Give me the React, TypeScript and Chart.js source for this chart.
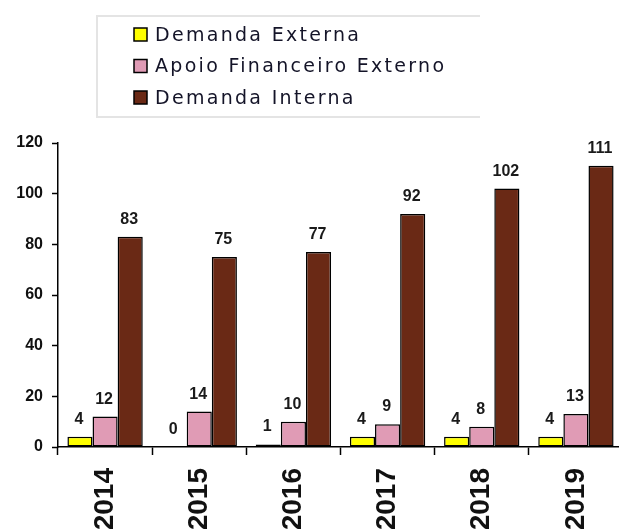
import React, { useEffect, useRef } from "react";
import { Chart, registerables } from "chart.js";

Chart.register(...registerables);

const years = ["2014", "2015", "2016", "2017", "2018", "2019"];
const demandaExterna = [4, 0, 1, 4, 4, 4];
const apoioFinanceiro = [12, 14, 10, 9, 8, 13];
const demandaInterna = [83, 75, 77, 92, 102, 111];
const yTicks = [0, 20, 40, 60, 80, 100, 120];

const seriesNames = ["Demanda Externa", "Apoio Financeiro Externo", "Demanda Interna"];
const seriesColors = ["#FFFF00", "#E09BB5", "#6A2915"];

const valueLabels = {
  id: "valueLabels",
  afterDatasetsDraw(chart: any) {
    const ctx = chart.ctx;
    ctx.save();
    ctx.font = "bold 16px 'Liberation Sans', Arial, sans-serif";
    ctx.fillStyle = "#1a1a1a";
    ctx.textAlign = "center";
    ctx.textBaseline = "alphabetic";
    chart.data.datasets.forEach((ds: any, i: number) => {
      const meta = chart.getDatasetMeta(i);
      meta.data.forEach((bar: any, j: number) => {
        ctx.fillText(String(ds.data[j]), bar.x - 1, bar.y - 13);
      });
    });
    ctx.restore();
  },
};

const boxLegend = {
  id: "boxLegend",
  afterDraw(chart: any) {
    const ctx = chart.ctx;
    ctx.save();
    ctx.strokeStyle = "#e4e4e4";
    ctx.lineWidth = 2;
    ctx.beginPath();
    ctx.moveTo(480, 16);
    ctx.lineTo(97, 16);
    ctx.lineTo(97, 117);
    ctx.lineTo(480, 117);
    ctx.stroke();
    ctx.font = "19px 'DejaVu Sans', Verdana, sans-serif";
    (ctx as any).letterSpacing = "2.3px";
    ctx.textAlign = "left";
    ctx.textBaseline = "middle";
    seriesNames.forEach((name, i) => {
      const cy = 35 + i * 31.5;
      ctx.fillStyle = seriesColors[i];
      ctx.fillRect(134, cy - 7, 13, 13);
      ctx.strokeStyle = "#000";
      ctx.lineWidth = 1.5;
      ctx.strokeRect(134, cy - 7, 13, 13);
      ctx.fillStyle = "#141428";
      ctx.fillText(name, 155, cy + 1);
    });
    ctx.restore();
  },
};

export default function App() {
  const ref = useRef<HTMLCanvasElement>(null);
  useEffect(() => {
    if (!ref.current) return;
    const seriesData = [demandaExterna, apoioFinanceiro, demandaInterna];
    const chart = new Chart(ref.current, {
      type: "bar",
      data: {
        labels: years,
        datasets: seriesNames.map((name, i) => ({
          label: name,
          data: seriesData[i],
          backgroundColor: seriesColors[i],
          borderColor: "#000",
          borderWidth: 1.5,
          borderSkipped: false,
          categoryPercentage: 0.8,
          barPercentage: 1,
        })),
      },
      options: {
        responsive: false,
        animation: false,
        layout: { padding: { top: 143, left: 0, right: 7, bottom: 0 } },
        plugins: {
          legend: { display: false },
          tooltip: { enabled: false },
        },
        scales: {
          x: {
            grid: {
              drawOnChartArea: false,
              drawTicks: true,
              tickLength: 8,
              tickColor: "#000",
              tickWidth: 1.5,
              offset: true,
            },
            border: { color: "#000", width: 1.5 },
            ticks: {
              minRotation: 90,
              maxRotation: 90,
              padding: 13,
              color: "#111",
              font: { family: "'Liberation Sans', Arial, sans-serif", size: 28, weight: "bold" },
            },
            afterFit: (s: any) => {
              s.height = 82;
            },
          },
          y: {
            min: 0,
            max: 120,
            afterBuildTicks: (s: any) => {
              s.ticks = yTicks.map((v) => ({ value: v }));
            },
            grid: {
              drawOnChartArea: false,
              drawTicks: true,
              tickLength: 6,
              tickColor: "#000",
              tickWidth: 1.5,
            },
            border: { color: "#000", width: 1.5 },
            ticks: {
              padding: 9,
              color: "#111",
              font: { family: "'Liberation Sans', Arial, sans-serif", size: 16, weight: "bold" },
            },
            afterFit: (s: any) => {
              s.width = 58;
            },
          },
        },
      },
      plugins: [valueLabels, boxLegend],
    });
    return () => chart.destroy();
  }, []);
  return (
    <div style={{ position: "absolute", left: 0, top: 0, width: 619, height: 529, overflow: "hidden", background: "#fff" }}>
      <canvas ref={ref} width={630} height={529} style={{ width: 630, height: 529, display: "block" }} />
    </div>
  );
}
